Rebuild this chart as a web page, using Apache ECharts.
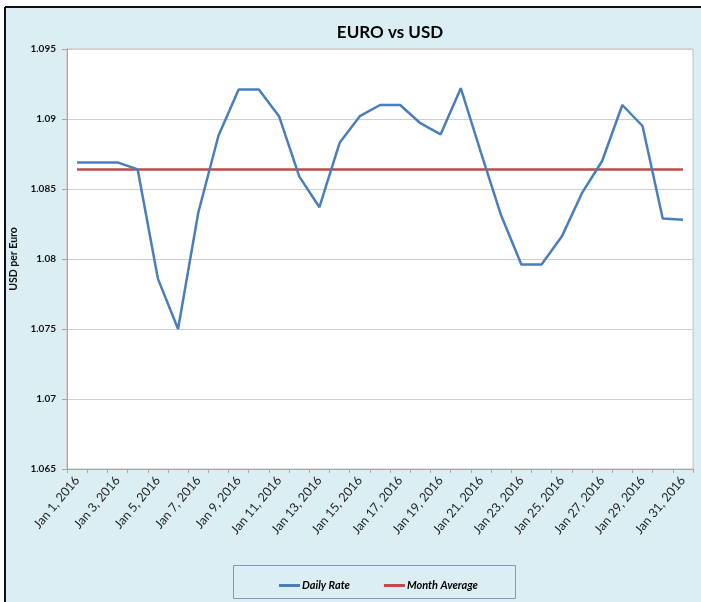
<!DOCTYPE html>
<html>
<head>
<meta charset="utf-8">
<script src="https://cdn.jsdelivr.net/npm/echarts@6/dist/echarts.min.js"></script>
<style>
html,body{margin:0;padding:0;background:#fff;}
#c{width:701px;height:602px;}
</style>
</head>
<body>
<div id="c"></div>
<script>
const categories = ["Jan 1, 2016","Jan 2, 2016","Jan 3, 2016","Jan 4, 2016","Jan 5, 2016","Jan 6, 2016","Jan 7, 2016","Jan 8, 2016","Jan 9, 2016","Jan 10, 2016","Jan 11, 2016","Jan 12, 2016","Jan 13, 2016","Jan 14, 2016","Jan 15, 2016","Jan 16, 2016","Jan 17, 2016","Jan 18, 2016","Jan 19, 2016","Jan 20, 2016","Jan 21, 2016","Jan 22, 2016","Jan 23, 2016","Jan 24, 2016","Jan 25, 2016","Jan 26, 2016","Jan 27, 2016","Jan 28, 2016","Jan 29, 2016","Jan 30, 2016","Jan 31, 2016"];
const dailyRate = [1.0869,1.0869,1.0869,1.0864,1.0786,1.0750,1.0833,1.0888,1.0921,1.0921,1.0902,1.0859,1.0837,1.0883,1.0902,1.0910,1.0910,1.0897,1.0889,1.0922,1.0876,1.0831,1.0796,1.0796,1.0816,1.0847,1.0870,1.0910,1.0895,1.0829,1.0828];
const monthAverage = [1.0864,1.0864,1.0864,1.0864,1.0864,1.0864,1.0864,1.0864,1.0864,1.0864,1.0864,1.0864,1.0864,1.0864,1.0864,1.0864,1.0864,1.0864,1.0864,1.0864,1.0864,1.0864,1.0864,1.0864,1.0864,1.0864,1.0864,1.0864,1.0864,1.0864,1.0864];
const yTicks = [1.065,1.07,1.075,1.08,1.085,1.09,1.095];

const FONT = 'Lato, "Liberation Sans", sans-serif';
const chart = echarts.init(document.getElementById('c'), null, {renderer:'canvas'});
chart.setOption({
  animation:false,
  backgroundColor:'#ffffff',
  graphic:[
    {type:'rect', z:-10, shape:{x:5,y:7,width:696,height:595}, style:{fill:'#DAEEF3'}},
    {type:'line', z:-9, shape:{x1:5,y1:7,x2:701,y2:7}, style:{stroke:'#111',lineWidth:2}},
    {type:'line', z:-9, shape:{x1:5,y1:7,x2:5,y2:602}, style:{stroke:'#111',lineWidth:2}},
    {type:'rect', z:-8, shape:{x:233.5,y:565.5,width:282,height:33}, style:{fill:'none',stroke:'#8497B8',lineWidth:1}}
  ],
  title:{
    text:'EURO vs USD', left:385, top:19, textAlign:'center',
    textStyle:{fontFamily:FONT, fontSize:17, fontWeight:'bold', color:'#000'}
  },
  legend:{
    left:274, top:575, itemGap:34, itemWidth:21, itemHeight:3, icon:'rect',
    data:['Daily Rate','Month Average'],
    textStyle:{fontFamily:FONT, fontSize:11, fontWeight:'bold', fontStyle:'italic', color:'#000', padding:[0,0,0,-3]}
  },
  grid:{left:67, top:49, width:626, height:420, show:true, backgroundColor:'#fff', borderColor:'#CDBFB0', borderWidth:1, containLabel:false},
  xAxis:{
    type:'category', data:categories, boundaryGap:true,
    axisLine:{lineStyle:{color:'#A6A6A6', width:1}},
    axisTick:{show:true, interval:0, length:4, lineStyle:{color:'#A6A6A6'}},
    axisLabel:{interval:1, rotate:50, margin:9, fontFamily:FONT, fontSize:12.5, color:'#222'}
  },
  yAxis:{
    type:'value', min:yTicks[0], max:yTicks[yTicks.length-1], interval:0.005,
    name:'USD per Euro', nameLocation:'middle', nameGap:48, nameRotate:90,
    nameTextStyle:{fontFamily:FONT, fontSize:10.5, fontWeight:'bold', color:'#111'},
    axisLine:{show:true, lineStyle:{color:'#A6A6A6'}},
    axisTick:{show:true, length:5, lineStyle:{color:'#A6A6A6'}},
    axisLabel:{margin:11, fontFamily:FONT, fontSize:10, fontWeight:'bold', color:'#111',
      formatter:v=>String(+v.toFixed(3))},
    splitLine:{show:true, lineStyle:{color:'#CFCFCF', width:1}}
  },
  series:[
    {name:'Daily Rate', type:'line', data:dailyRate, showSymbol:false, symbol:'none',
      lineStyle:{color:'#4A7EBB', width:2.5}, itemStyle:{color:'#4A7EBB'}, z:3},
    {name:'Month Average', type:'line', data:monthAverage, showSymbol:false, symbol:'none',
      lineStyle:{color:'#BE4B48', width:2.5}, itemStyle:{color:'#BE4B48'}, z:2}
  ]
});
</script>
</body>
</html>
